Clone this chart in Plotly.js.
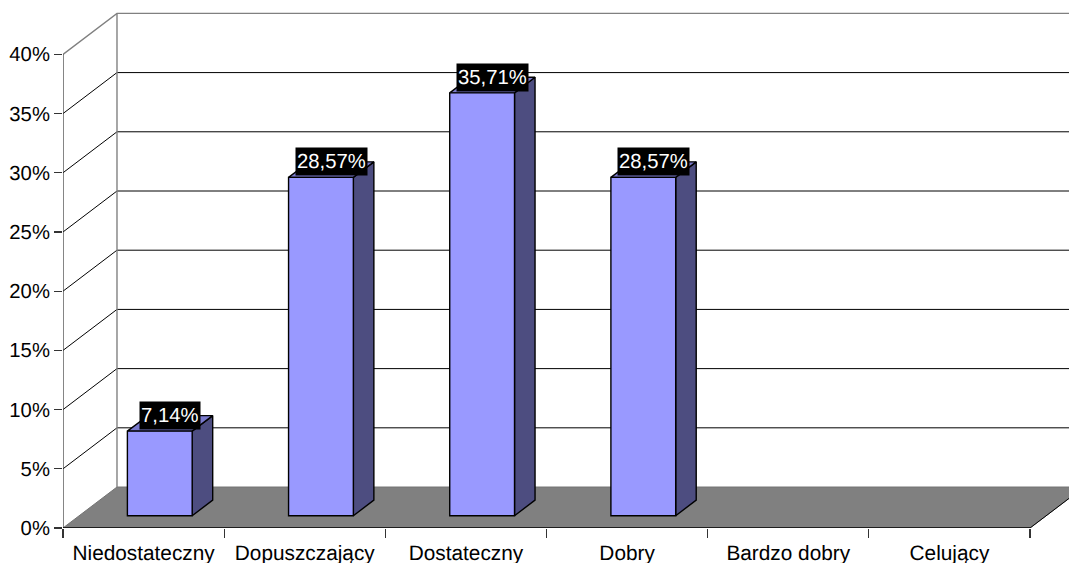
<!DOCTYPE html>
<html>
<head>
<meta charset="utf-8">
<script src="https://cdn.plot.ly/plotly-3.0.1.min.js"></script>
<style>html,body{margin:0;padding:0;background:#fff}#chart{width:1069px;height:563px}svg text{text-rendering:geometricPrecision}</style>
</head>
<body>
<div id="chart"></div>
<script>
// Grade distribution, drawn as a pseudo-3D column chart
const categories = ['Niedostateczny', 'Dopuszczający', 'Dostateczny', 'Dobry', 'Bardzo dobry', 'Celujący'];
const percentages = [7.14, 28.57, 35.71, 28.57, 0, 0];
const valueTicks = [0, 5, 10, 15, 20, 25, 30, 35, 40];
const valueTickLabels = ['0%', '5%', '10%', '15%', '20%', '25%', '30%', '35%', '40%'];

// Oblique projection: depth d in 0..1 shifts a point right and up, in axis units
const DEPTH_X = 0.335;
const DEPTH_Y = 3.46;
const BAR_WIDTH = 0.402;
const BAR_FRONT = 0.30;
const BAR_BACK = 0.68;
const X_MAX = 6.2418;
const Y_MAX = 44.59;
const FONT = 'Liberation Sans, Arial, sans-serif';
const project = (u, v, d) => [u + d * DEPTH_X, v + d * DEPTH_Y];

// Collect [u, v, d] corners into null-separated polygon or polyline coordinates
function path(shapes) {
  const xs = [], ys = [];
  shapes.forEach(corners => {
    corners.forEach(c => {
      const p = project(c[0], c[1], c[2]);
      xs.push(p[0]); ys.push(p[1]);
    });
    xs.push(null); ys.push(null);
  });
  return {x: xs, y: ys};
}

const base = {hoverinfo: 'skip', showlegend: false, mode: 'lines', cliponaxis: true};
const FLOOR = [[0, 0, 0], [6, 0, 0], [6, 0, 1], [0, 0, 1], [0, 0, 0]];

const innerTicks = valueTicks.filter(v => v > 0 && v < 40);
const gridLines = path(innerTicks.flatMap(v => [
  [[0, v, 0], [0, v, 1]],
  [[0, v, 1], [X_MAX + 1, v, 1]]
]));
const wallEdges = path([
  [[0, 40, 0], [0, 40, 1], [X_MAX + 1, 40, 1]],
  [[0, 0, 1], [0, 40, 1]]
]);

const shown = percentages.map((v, i) => ({v, i})).filter(b => b.v > 0);
const sides = path(shown.map(b => {
  const r = b.i + 0.5 + BAR_WIDTH / 2;
  return [[r, 0, BAR_FRONT], [r, 0, BAR_BACK], [r, b.v, BAR_BACK], [r, b.v, BAR_FRONT], [r, 0, BAR_FRONT]];
}));
const tops = path(shown.map(b => {
  const l = b.i + 0.5 - BAR_WIDTH / 2, r = b.i + 0.5 + BAR_WIDTH / 2;
  return [[l, b.v, BAR_FRONT], [r, b.v, BAR_FRONT], [r, b.v, BAR_BACK], [l, b.v, BAR_BACK], [l, b.v, BAR_FRONT]];
}));
const yAxisLine = path([[[0, 0, 0], [0, 40, 0]]]);
const xAxisLine = path([[[0, 0, 0], [6, 0, 0]]]);
const floorEdge = path([[[6, 0, 0], [6, 0, 1]]]);

const traces = [
  {...base, ...path([FLOOR]), fill: 'toself', fillcolor: '#808080', line: {color: '#737373', width: 1}},
  {...base, ...gridLines, line: {color: '#000', width: 1}},
  {...base, ...wallEdges, line: {color: '#808080', width: 1.4}},
  {...base, ...floorEdge, line: {color: '#000', width: 1}},
  {...base, ...sides, fill: 'toself', fillcolor: '#4D4D80', line: {color: '#000', width: 1.4}},
  {...base, ...tops, fill: 'toself', fillcolor: '#7A7ACC', line: {color: '#000', width: 1.4}},
  {...base, ...yAxisLine, line: {color: '#333', width: 1.2}, cliponaxis: false},
  {...base, ...xAxisLine, line: {color: '#000', width: 1.4}, cliponaxis: false},
  {
    type: 'bar', x: categories, y: percentages, xaxis: 'x2', yaxis: 'y',
    base: percentages.map(() => BAR_FRONT * DEPTH_Y),
    width: BAR_WIDTH,
    offset: -BAR_WIDTH / 2 + BAR_FRONT * DEPTH_X,
    marker: {color: '#9999FF', line: {color: '#000', width: percentages.map(v => v > 0 ? 1.4 : 0)}},
    hoverinfo: 'skip', showlegend: false
  }
];

const valueLabels = shown.map(b => ({
  xref: 'x', yref: 'y',
  x: b.i + 0.5 + 0.49 * DEPTH_X,
  y: b.v + BAR_BACK * DEPTH_Y,
  text: b.v.toFixed(2).replace('.', ',') + '%',
  showarrow: false, xanchor: 'center', yanchor: 'middle',
  bgcolor: '#000', borderpad: 1, height: 25,
  font: {family: FONT, size: 20.3, color: '#fff'}
}));

const layout = {
  width: 1069, height: 563,
  margin: {l: 63, r: 0, t: 0, b: 35, pad: 0},
  paper_bgcolor: '#fff', plot_bgcolor: '#fff',
  showlegend: false, barmode: 'overlay',
  font: {family: FONT, size: 20.3, color: '#000'},
  xaxis: {
    type: 'linear', range: [0, X_MAX], showgrid: false, zeroline: false, showline: false,
    tickmode: 'array', tickvals: [0, 1, 2, 3, 4, 5, 6], showticklabels: false,
    ticks: 'outside', ticklen: 9, tickwidth: 1.2, tickcolor: '#333'
  },
  xaxis2: {
    type: 'category', categoryorder: 'array', categoryarray: categories,
    overlaying: 'x', anchor: 'y', side: 'bottom',
    range: [-0.5, X_MAX - 0.5], showgrid: false, zeroline: false, showline: false,
    tickmode: 'array', tickvals: categories, ticktext: categories,
    ticks: 'outside', ticklen: 6, tickcolor: 'rgba(0,0,0,0)', tickwidth: 0,
    tickfont: {size: 20.8}
  },
  yaxis: {
    range: [0, Y_MAX], showgrid: false, zeroline: false, showline: false,
    tickmode: 'array', tickvals: valueTicks, ticktext: valueTickLabels,
    ticks: 'outside', ticklen: 8, tickwidth: 1.2, tickcolor: '#333',
    tickfont: {size: 20.3}
  },
  annotations: valueLabels
};

Plotly.newPlot('chart', traces, layout, {displayModeBar: false, staticPlot: true});
</script>
</body>
</html>
